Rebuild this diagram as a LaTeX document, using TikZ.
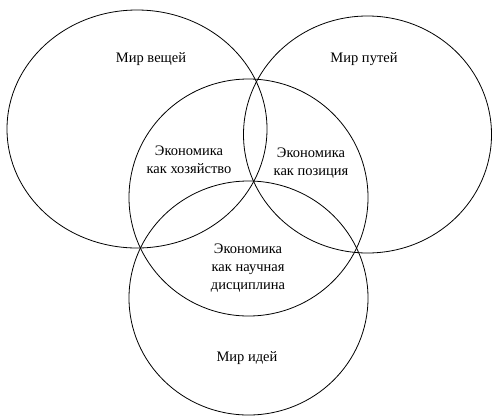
\documentclass[tikz,border=0pt]{standalone}
\usepackage{fontspec}
\setmainfont{Liberation Serif}
\begin{document}
\begin{tikzpicture}[x=1pt,y=-1pt,
  ring/.style={draw=black,line width=0.8pt},
  lbl/.style={font=\fontsize{14.5}{18}\selectfont,align=center,inner sep=0pt}]
\useasboundingbox (0,0) rectangle (492,416);
\draw[ring] (137,129) ellipse [x radius=130,y radius=119];
\draw[ring] (367.5,134.5) ellipse [x radius=124,y radius=118.5];
\draw[ring] (248.5,197.5) ellipse [x radius=119.5,y radius=118.5];
\draw[ring] (248.5,298) ellipse [x radius=119.5,y radius=117];
\node[lbl] (things) at (151,59) {Мир вещей};
\node[lbl] (ways) at (364,59) {Мир путей};
\node[lbl] (econ1) at (189,160) {Экономика\\как хозяйство};
\node[lbl] (econ2) at (311,163) {Экономика\\как позиция};
\node[lbl] (econ3) at (248,268) {Экономика\\как научная\\дисциплина};
\node[lbl] (ideas) at (247,358) {Мир идей};
\end{tikzpicture}
\end{document}
